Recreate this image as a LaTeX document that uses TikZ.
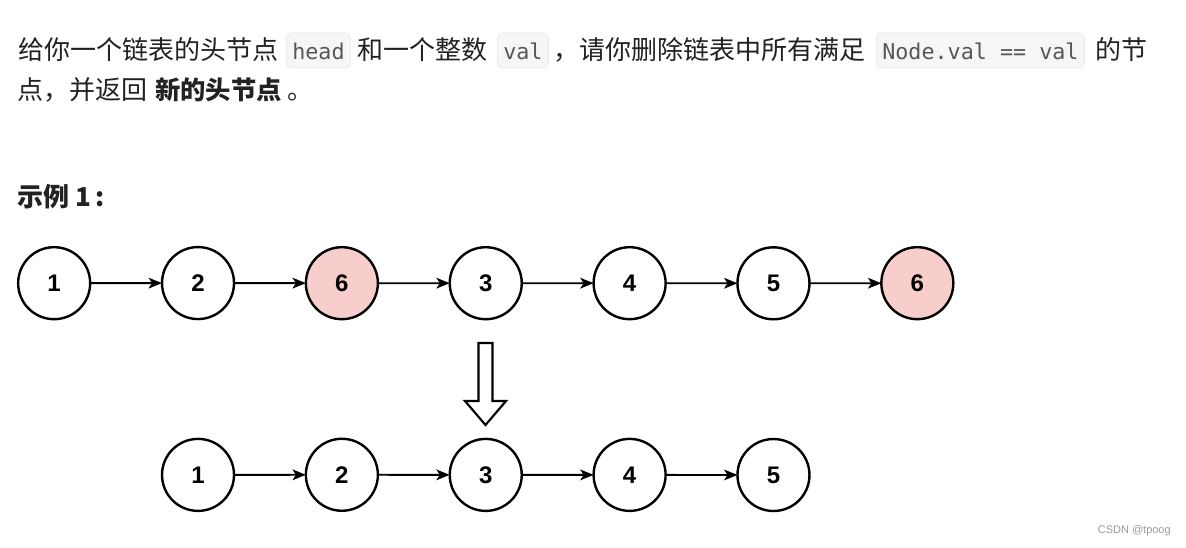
\documentclass[tikz,border=0pt]{standalone}
\usepackage{fontspec}
\setmainfont{Noto Sans CJK SC}
\newfontfamily\codefont{DejaVu Sans Mono}
\newfontfamily\numfont{Liberation Sans}
\usetikzlibrary{matrix,positioning,arrows.meta}
\definecolor{txt}{HTML}{222222}
\definecolor{codebg}{HTML}{F6F6F6}
\definecolor{codeline}{HTML}{E4E4E4}
\definecolor{codetxt}{HTML}{575757}
\definecolor{delred}{HTML}{F8CECC}
\definecolor{mark}{HTML}{9A9A9A}

\begin{document}
\begin{tikzpicture}[
x=0.75pt, y=-0.75pt,
line/.style={
  inner sep=0pt,
  text=txt,
  font=\fontsize{19.5pt}{24pt}\selectfont
  },
code/.style={
  draw=codeline,
  fill=codebg,
  rounded corners=4pt,
  text=codetxt,
  inner xsep=4.5pt,
  inner ysep=5pt,
  text height=14.5pt,
  text depth=1.75pt,
  font=\codefont\fontsize{16.3pt}{18pt}\selectfont
  },
plain/.style={
  draw=none,
  fill=none,
  },
del/.style={
  fill=delred,
  },
net/.style={
  matrix of nodes,
  nodes={
    draw,
    circle,
    line width=1.8pt,
    minimum size=54pt,
    inner sep=0pt,
    outer sep=0pt,
    font=\numfont\bfseries\fontsize{18pt}{20pt}\selectfont
    },
  nodes in empty cells,
  column sep=52.1pt,
  row sep=87.8pt
  },
>={Stealth[length=10pt,width=8pt,inset=2.5pt]}
]
\useasboundingbox (0,0) rectangle (1186,547);

% problem text
\node[line, anchor=base west] (p1) at (18,59) {给你一个链表的头节点};
\node[code, anchor=base west] (c1) at (286,59) {head};
\node[line, anchor=base west] (p2) at (357,59) {和一个整数};
\node[code, anchor=base west] (c2) at (497,59) {val};
\node[line, anchor=base west] (p3) at (553,59) {，请你删除链表中所有满足};
\node[code, anchor=base west] (c3) at (876,59) {Node.val == val};
\node[line, anchor=base west] (p4) at (1095,59) {的节};
\node[line, anchor=base west] (q1) at (17,99) {点，并返回};
\node[line, anchor=base west, font=\bfseries\fontsize{19pt}{24pt}\selectfont] (q2) at (155,99) {新的头节点};
\node[line, anchor=base west] (q3) at (287,99) {。};
\node[line, anchor=base west, font=\bfseries\fontsize{19.5pt}{24pt}\selectfont] (ex) at (17,206) {示例 1\,:};

\matrix[net] (mat) at (485.75,382.5)
{
1 & 2 & |[del]| 6 & 3 & 4 & 5 & |[del]| 6 \\
|[plain]| & 1 & 2 & 3 & 4 & 5 & |[plain]| \\
};
\foreach \ai [count=\aii from 2] in {1,...,6}
  \draw[->, line width=1.4pt] (mat-1-\ai) -- (mat-1-\aii);
\foreach \ai [count=\aii from 3] in {2,...,5}
  \draw[->, line width=1.4pt] (mat-2-\ai) -- (mat-2-\aii);

% hollow arrow
\draw[line width=1.6pt, line join=miter] (478.5,343) -- (492.5,343) -- (492.5,401) -- (506,401)
  -- (485.5,425) -- (465,401) -- (478.5,401) -- cycle;

\node[anchor=east, inner sep=0pt, text=mark, font=\numfont\fontsize{8.25pt}{10pt}\selectfont] (wm) at (1171,531) {CSDN @tpoog};
\end{tikzpicture}
\end{document}
